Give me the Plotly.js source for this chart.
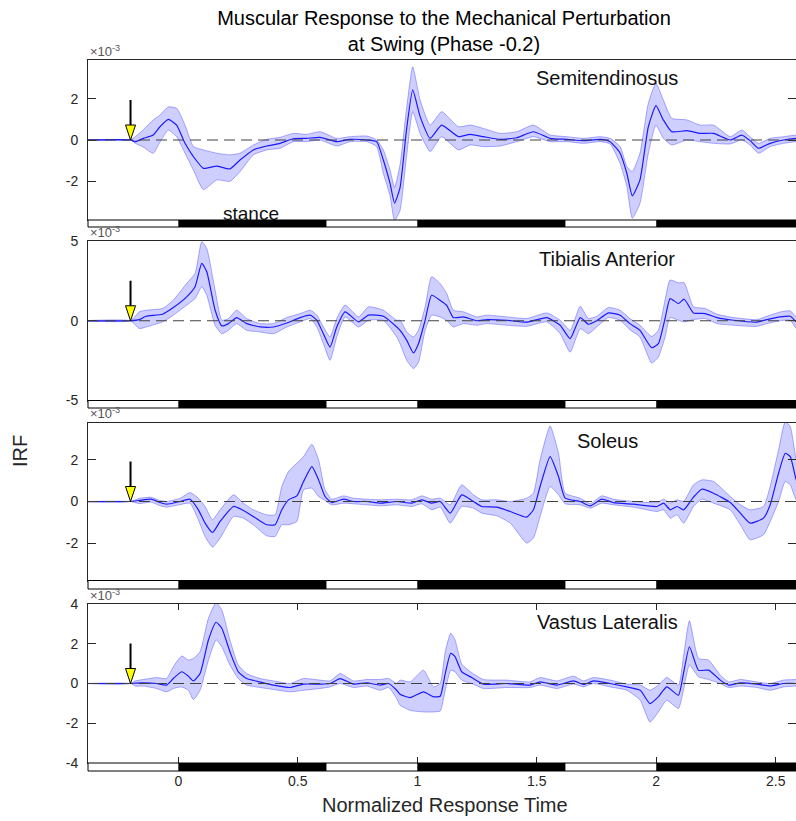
<!DOCTYPE html>
<html><head><meta charset="utf-8">
<script src="https://cdn.plot.ly/plotly-3.0.1.min.js"></script>
<style>html,body{margin:0;padding:0;overflow:hidden;background:#fff}#chart{width:796px;height:821px}</style>
</head><body><div id="chart"></div>
<script>
// ---- data (IRF values in units of 1e-3) ----
const semiT = [-0.4,-0.2,-0.18,-0.146,-0.105,-0.077,-0.042,-0.007,0.028,0.063,0.105,0.161,0.216,0.258,0.314,0.37,0.426,0.481,0.537,0.593,0.663,0.719,0.789,0.83,0.858,0.886,0.905,0.928,0.955,0.981,1.012,1.054,1.102,1.172,1.221,1.277,1.347,1.416,1.486,1.556,1.626,1.696,1.765,1.807,1.849,1.877,1.9,1.932,1.967,1.999,2.03,2.065,2.128,2.184,2.24,2.31,2.358,2.393,2.428,2.477,2.533,2.586,2.62];
const semiMean = [0,0,-0.08,0.08,0.24,0.64,1.0,0.72,-0.16,-0.8,-1.37,-1.26,-1.4,-0.97,-0.48,-0.29,-0.16,0.06,0.08,0.13,-0.08,0.03,0,-0.08,-0.97,-2.1,-3.05,-2.3,0.5,2.42,1.13,0.08,0.72,0.16,0.27,0.16,0.03,0.11,0.4,0.08,0.03,-0.03,0.03,-0.08,-0.64,-1.61,-2.7,-1.93,0.64,1.66,0.97,0.4,0.45,0.32,0.32,0,0.24,-0.03,-0.4,-0.16,0,0.08,0.1];
const semiHi = [0,0,0.16,0.5,0.97,1.2,1.6,1.53,0.72,-0.32,-0.48,-0.64,-0.72,-0.64,-0.24,0.03,0.13,0.32,0.27,0.4,0.08,0.16,0.19,0,-0.48,-1.45,-2.3,-1.2,1.5,3.54,1.93,0.72,1.37,0.64,0.72,0.56,0.32,0.4,0.72,0.24,0.16,0.08,0.16,0.08,-0.32,-1.29,-1.53,-0.64,1.77,2.74,1.93,1.05,0.97,0.72,0.72,0.16,0.48,0.16,-0.16,0.08,0.16,0.24,0.26];
const semiLo = [0,0,-0.16,-0.35,-0.64,-0.1,0.48,0.16,-0.64,-1.45,-2.4,-1.93,-2.0,-1.53,-0.72,-0.48,-0.4,-0.08,-0.08,0,-0.29,-0.08,-0.08,-0.32,-1.61,-2.7,-3.9,-3.4,-0.8,1.37,0.32,-0.56,0.16,-0.48,-0.24,-0.32,-0.29,-0.08,0.16,-0.08,-0.08,-0.16,-0.08,-0.19,-1.13,-2.25,-3.78,-3.06,-0.64,0.72,0.08,-0.24,0,-0.08,-0.16,-0.19,0,-0.24,-0.64,-0.32,-0.16,-0.08,-0.05];

const tibT = [-0.4,-0.2,-0.163,-0.135,-0.066,-0.021,0.035,0.07,0.098,0.119,0.154,0.182,0.21,0.244,0.286,0.342,0.398,0.454,0.51,0.552,0.58,0.607,0.635,0.663,0.698,0.754,0.796,0.858,0.914,0.928,0.956,0.984,1.005,1.033,1.06,1.095,1.123,1.151,1.193,1.249,1.291,1.375,1.458,1.542,1.598,1.64,1.682,1.716,1.751,1.8,1.849,1.89,1.932,1.981,2.009,2.037,2.058,2.093,2.117,2.156,2.205,2.254,2.324,2.421,2.463,2.519,2.561,2.586,2.62];
const tibMean = [0,0,0.07,0.28,0.41,0.83,1.5,2.13,3.6,3.07,0.66,-0.32,-0.18,0.2,-0.18,-0.39,-0.39,-0.14,0.2,0.35,0.03,-0.81,-1.65,-0.39,0.56,-0.07,0.35,0.28,-0.39,-0.6,-1.23,-2.02,-1.44,0.03,1.6,1.29,0.97,0.2,0.24,0,0.07,0.03,-0.09,0.2,-0.28,-1.12,0.2,-0.22,0,0.49,0.35,-0.18,-0.6,-1.69,-1.44,0.14,1.39,1.08,1.35,0.49,0.45,0.2,0.03,-0.09,0.07,0.24,0.28,-0.07,-0.3];
const tibHi = [0,0,0.56,0.66,0.77,1.29,2.34,2.96,4.96,4.53,1.92,0.03,0.14,0.66,0.14,-0.18,-0.18,0.2,0.45,0.66,0.35,-0.39,-1.02,0.14,0.98,0.24,0.87,0.66,0.03,0.03,-0.7,-1.02,-0.6,0.87,2.76,2.34,1.71,0.66,0.56,0.24,0.35,0.24,0.14,0.49,0.03,-0.6,0.91,0.14,0.28,0.83,0.66,0.14,-0.28,-0.98,-0.6,1.29,2.55,2.38,2.38,0.87,0.77,0.41,0.2,0.07,0.28,0.55,0.62,0.24,0.1];
const tibLo = [0,0,-0.49,-0.39,-0.07,0.35,0.98,1.39,2.13,1.6,-0.28,-0.81,-0.6,-0.18,-0.6,-0.7,-0.81,-0.39,-0.07,0.14,-0.39,-1.43,-2.48,-1.02,0.24,-0.39,0.03,0.03,-1.02,-1.44,-2.48,-3.0,-2.6,-0.6,0.35,0.24,0.03,-0.39,-0.18,-0.28,-0.18,-0.28,-0.35,-0.07,-0.81,-1.97,-0.49,-0.81,-0.39,0.2,0.03,-0.56,-1.02,-2.65,-2.27,-1.02,0.2,0.03,-0.07,0.07,0.14,-0.18,-0.28,-0.35,-0.18,0,0.03,-0.49,-0.8];

const solT = [-0.4,-0.2,-0.163,-0.114,-0.077,-0.049,0.007,0.049,0.084,0.112,0.143,0.175,0.231,0.272,0.314,0.37,0.405,0.433,0.461,0.496,0.524,0.559,0.587,0.614,0.642,0.691,0.733,0.789,0.845,0.914,0.977,1.019,1.061,1.096,1.138,1.186,1.235,1.27,1.333,1.389,1.458,1.486,1.514,1.556,1.591,1.619,1.682,1.724,1.772,1.821,1.905,2.003,2.031,2.059,2.087,2.115,2.156,2.191,2.24,2.31,2.352,2.393,2.449,2.477,2.512,2.54,2.561,2.586,2.62];
const solMean = [0,0,0.05,0.11,-0.05,-0.13,0,0.11,-0.4,-1.04,-1.49,-0.96,-0.24,-0.43,-0.72,-1.12,-1.12,-0.4,0.08,0.27,0.96,1.68,1.04,0.24,-0.05,0.11,0,0,-0.08,0,-0.08,0.08,-0.08,0,-0.56,0.32,0,-0.24,-0.27,-0.48,-0.75,-0.4,0.72,2.16,1.2,0.16,0,-0.21,0.11,-0.05,-0.13,-0.24,-0.08,-0.4,-0.24,-0.4,0.21,0.59,0.4,-0.05,-0.56,-1.04,-0.8,-0.16,1.36,2.32,2.16,1.04,0.3];
const solHi = [0,0,0.15,0.2,0.05,0,0.15,0.43,0.16,-0.24,-0.88,-0.4,0.32,-0.08,-0.4,-0.64,-0.64,0.72,1.44,1.84,2.16,2.75,2.0,0.56,0.11,0.27,0.16,0.11,0.08,0.11,0.08,0.27,0.11,0.16,-0.16,0.8,0.32,0.08,0.08,0,0.16,0.4,2.0,3.63,2.32,0.4,0.16,-0.11,0.27,0.11,0,-0.05,0.11,-0.08,0.08,0,0.8,1.04,0.96,0.24,-0.16,-0.4,-0.24,0.72,2.48,3.84,3.6,2.0,0.9];
const solLo = [0,0,-0.1,-0.03,-0.2,-0.27,-0.15,-0.08,-0.88,-1.68,-2.19,-1.76,-0.72,-0.8,-1.12,-1.65,-1.68,-1.12,-1.12,-0.96,0.56,0.64,0.24,0.05,-0.16,-0.08,-0.11,-0.16,-0.21,-0.16,-0.24,-0.11,-0.4,-0.27,-1.04,-0.24,-0.32,-0.56,-0.69,-1.04,-2.0,-1.76,-0.72,0.72,0.32,-0.11,-0.16,-0.32,-0.08,-0.16,-0.27,-0.48,-0.4,-0.8,-0.64,-1.04,-0.24,0.11,-0.08,-0.4,-1.12,-1.84,-1.6,-0.96,0,0.96,0.8,0.08,-0.2];

const vasT = [-0.4,-0.2,-0.18,-0.146,-0.091,-0.049,-0.021,0.014,0.042,0.063,0.091,0.126,0.158,0.182,0.216,0.251,0.286,0.342,0.398,0.468,0.524,0.593,0.635,0.677,0.733,0.789,0.845,0.88,0.914,0.928,0.97,1.026,1.068,1.096,1.117,1.14,1.158,1.186,1.228,1.277,1.375,1.472,1.514,1.584,1.654,1.696,1.737,1.807,1.877,1.933,1.974,2.009,2.044,2.093,2.114,2.139,2.177,2.219,2.268,2.303,2.352,2.421,2.477,2.533,2.586,2.62];
const vasMean = [0,0,0.02,0.03,0,-0.08,0.25,0.59,0.37,0.13,0.5,2.19,3.08,2.78,1.6,0.59,0.25,0.08,-0.08,-0.2,-0.03,-0.03,0,0.25,-0.03,0.03,-0.08,0,-0.34,-0.54,-0.71,-0.42,-0.67,-0.64,0.5,1.52,1.35,0.59,0.3,-0.03,0,-0.08,0.08,-0.08,0.13,-0.05,0.13,0,-0.17,-0.34,-1.01,-0.67,-0.17,-0.59,0.5,1.85,0.67,0.67,0.17,-0.08,0.03,-0.03,-0.13,0,0,0.02];
const vasHi = [0,0,0.13,0.2,0.3,0.25,0.84,1.38,1.18,1.26,1.6,3.28,4.07,3.7,2.19,0.93,0.5,0.25,0.13,0,0.25,0.17,0.13,0.5,0.13,0.2,0.2,0.25,0,0.17,0.08,0.67,-0.17,0,1.6,2.53,2.19,0.98,0.54,0.2,0.17,0.08,0.3,0.13,0.37,0.13,0.3,0.17,-0.03,-0.08,-0.34,-0.08,0.3,-0.08,1.35,3.16,1.26,1.18,0.42,0.08,0.2,0.08,0,0.17,0.2,0.2];
const vasLo = [0,0,-0.13,-0.13,-0.25,-0.42,-0.25,-0.17,-0.34,-0.81,-0.34,1.18,2.19,1.85,0.93,0.25,-0.08,-0.2,-0.3,-0.42,-0.34,-0.25,-0.17,0,-0.2,-0.13,-0.34,-0.2,-0.76,-1.09,-1.35,-1.43,-1.43,-1.38,-0.34,0.67,0.59,0.17,0,-0.25,-0.2,-0.2,-0.08,-0.25,-0.03,-0.17,0,-0.17,-0.34,-0.84,-1.94,-1.43,-0.84,-1.26,-0.34,0.93,0.34,0.2,0,-0.2,-0.13,-0.2,-0.34,-0.17,-0.13,-0.12];

const muscleNames = ['Semitendinosus','Tibialis Anterior','Soleus','Vastus Lateralis'];
const yLimits = [3.87, 5, 3.8, 4];
const yTickStep = [2, 5, 2, 2];
const xTickVals = [0, 0.5, 1, 1.5, 2, 2.5];
const stanceStarts = [0, 1, 2];
const stanceLength = 0.62;
const perturbPhase = -0.2;
const xRange = [-0.378, 2.585];

// ---- layout geometry ----
const W = 796, H = 821, mL = 88, mR = 0, mT = 60, mB = 50;
const plotW = W - mL - mR, plotH = H - mT - mB;
const panelPx = [[60,220,227],[241,400.5,408],[422.5,580.5,589],[604,763,771]];
const py2paper = p => (H - mB - p) / plotH;
const px2paper = p => (p - mL) / plotW;

const font = 'Liberation Sans, Arial, Helvetica, sans-serif';
const axisColor = '#262626';
const series = [
  [semiT, semiMean, semiLo, semiHi],
  [tibT, tibMean, tibLo, tibHi],
  [solT, solMean, solLo, solHi],
  [vasT, vasMean, vasLo, vasHi]
];

const traces = [];
const layout = {
  width: W, height: H,
  margin: {l: mL, r: mR, t: mT, b: mB, pad: 0},
  paper_bgcolor: '#fff', plot_bgcolor: '#fff',
  showlegend: false,
  font: {family: font, color: axisColor},
  title: {
    text: 'Muscular Response to the Mechanical Perturbation<br>at Swing (Phase -0.2)',
    font: {family: font, size: 20, color: '#000'},
    x: px2paper(444), xref: 'paper', xanchor: 'center',
    y: 1 - 25 / H, yref: 'container', yanchor: 'top'
  },
  shapes: [], annotations: []
};

function tickTexts(vals) { return vals.map(v => String(v)); }

series.forEach((s, i) => {
  const sfx = i ? String(i + 1) : '';
  const [t, m, lo, hi] = s;
  const xa = 'x' + sfx, ya = 'y' + sfx;
  const lineShape = {shape: 'spline', smoothing: 0.5};
  traces.push({x: t, y: lo, xaxis: xa, yaxis: ya, mode: 'lines', hoverinfo: 'skip',
    line: Object.assign({color: 'rgba(70,70,255,0.45)', width: 1}, lineShape)});
  traces.push({x: t, y: hi, xaxis: xa, yaxis: ya, mode: 'lines', hoverinfo: 'skip', fill: 'tonexty',
    fillcolor: 'rgba(0,0,255,0.19)',
    line: Object.assign({color: 'rgba(70,70,255,0.45)', width: 1}, lineShape)});
  traces.push({x: t, y: m, xaxis: xa, yaxis: ya, mode: 'lines',
    line: Object.assign({color: '#1a1aff', width: 1.2}, lineShape)});

  const p = panelPx[i];
  const L = yLimits[i];
  const yt = [];
  for (let v = -Math.floor(L / yTickStep[i]) * yTickStep[i]; v <= L + 1e-9; v += yTickStep[i]) yt.push(v);
  const last = i === 3;
  layout['xaxis' + sfx] = {
    domain: [0, 1], range: xRange, anchor: ya, showgrid: false, zeroline: false,
    showline: true, linecolor: axisColor, linewidth: 1, mirror: last ? 'ticks' : true,
    ticks: last ? 'inside' : '', ticklen: 6, tickcolor: axisColor,
    tickvals: xTickVals, ticktext: tickTexts(xTickVals),
    showticklabels: last, tickfont: {family: font, size: 14, color: axisColor},
    ticklabelstandoff: 5, fixedrange: true
  };
  layout['yaxis' + sfx] = {
    domain: [py2paper(p[1]), py2paper(p[0])], range: [-L, L], anchor: xa,
    showgrid: false, zeroline: false, showline: true, linecolor: axisColor, linewidth: 1,
    mirror: 'ticks', ticks: 'inside', ticklen: 8, tickcolor: axisColor,
    tickvals: yt, ticktext: tickTexts(yt), tickfont: {family: font, size: 14, color: axisColor},
    ticklabelstandoff: 6, fixedrange: true
  };

  // zero reference line
  layout.shapes.push({type: 'line', xref: xa, yref: ya, x0: xRange[0], x1: xRange[1], y0: 0, y1: 0,
    line: {color: '#404040', width: 1, dash: '11px,6px'}});
  // gait phase bar
  layout.shapes.push({type: 'rect', xref: xa + ' domain', yref: 'paper', x0: 0, x1: 1,
    y0: py2paper(p[2]), y1: py2paper(p[1]), fillcolor: '#fff', line: {color: '#000', width: 1}});
  stanceStarts.forEach(st => {
    layout.shapes.push({type: 'rect', xref: xa, yref: 'paper', x0: st, x1: Math.min(st + stanceLength, xRange[1]),
      y0: py2paper(p[2]), y1: py2paper(p[1]), fillcolor: '#000', line: {width: 0}});
  });
  // perturbation arrow
  layout.shapes.push({type: 'line', xref: xa, yref: ya, xsizemode: 'pixel', ysizemode: 'pixel',
    xanchor: perturbPhase, yanchor: 0, x0: 0, x1: 0, y0: 15, y1: 40, line: {color: '#000', width: 2}});
  layout.shapes.push({type: 'path', xref: xa, yref: ya, xsizemode: 'pixel', ysizemode: 'pixel',
    xanchor: perturbPhase, yanchor: 0, path: 'M-5,15L5,15L0,0Z', fillcolor: '#ffff00', line: {color: '#000', width: 1}});

  // exponent label
  layout.annotations.push({xref: 'paper', yref: 'paper', x: 0, y: py2paper(p[0]), xanchor: 'left', yanchor: 'bottom',
    yshift: -1, showarrow: false, text: '×10<sup>-3</sup>', font: {family: font, size: 13, color: '#555'}});
  // muscle name
  layout.annotations.push({xref: 'paper', yref: 'paper', x: px2paper(607), y: py2paper(p[0] + (i === 2 ? 19 : 17.5)),
    xanchor: 'center', yanchor: 'middle', showarrow: false, text: muscleNames[i],
    font: {family: font, size: 20, color: '#111'}});
});

layout.annotations.push({xref: 'x', yref: 'paper', x: 0.305, y: py2paper(213), xanchor: 'center', yanchor: 'middle',
  showarrow: false, text: 'stance', font: {family: font, size: 19, color: '#111'}});
layout.annotations.push({xref: 'paper', yref: 'paper', x: px2paper(20), y: py2paper(451), xanchor: 'center', yanchor: 'middle',
  showarrow: false, text: 'IRF', textangle: -90, font: {family: font, size: 20, color: axisColor}});
layout.annotations.push({xref: 'paper', yref: 'paper', x: px2paper(445), y: py2paper(805), xanchor: 'center', yanchor: 'middle',
  showarrow: false, text: 'Normalized Response Time', font: {family: font, size: 20, color: axisColor}});

Plotly.newPlot('chart', traces, layout, {displayModeBar: false, staticPlot: true});
</script>
</body></html>
